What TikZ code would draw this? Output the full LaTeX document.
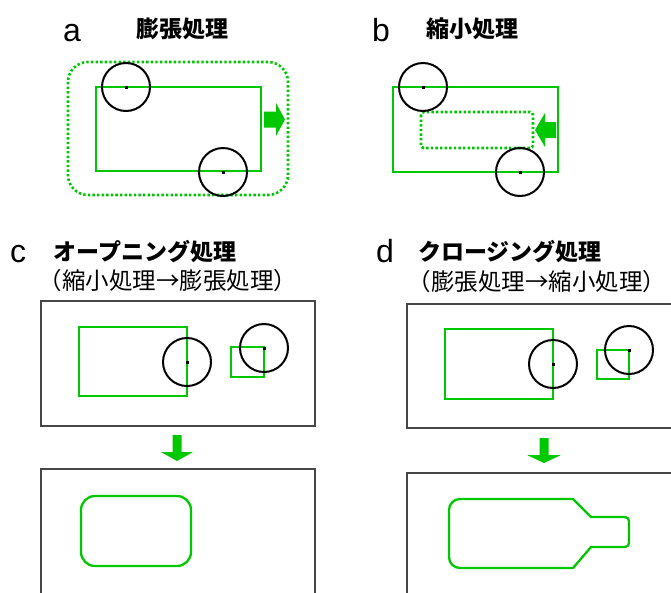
\documentclass[tikz,border=0pt]{standalone}
\usepackage{fontspec}
\setmainfont{Liberation Sans}
\newfontfamily\jp{Noto Sans CJK JP}
\definecolor{grn}{RGB}{0,200,0}
\definecolor{frm}{RGB}{70,70,70}
\begin{document}
\begin{tikzpicture}[x=1pt,y=-1pt,
  shape line/.style={draw=grn,line width=2.3pt},
  dotline/.style={draw=grn,line width=2.6pt,dash pattern=on 2.4pt off 2.2pt},
  probe/.style={draw=black,line width=2pt},
  frame/.style={draw=frm,line width=1.5pt},
  garrow/.style={fill=grn,draw=none},
  letter/.style={font=\fontsize{32}{32}\selectfont,inner sep=0pt,anchor=base},
  title/.style={font=\jp\bfseries\fontsize{23}{23}\selectfont,inner sep=0pt},
  subtitle/.style={font=\jp\fontsize{23.5}{24}\selectfont,inner sep=0pt}]
\useasboundingbox (0,0) rectangle (671,592);
\fill[white] (0,0) rectangle (671,592);
% ---------- a ----------
\node[letter] (la) at (72,41) {a};
\node[title] (ta) at (182,29) {膨張処理};
\draw[dotline,rounded corners=20pt] (68,62) rectangle (288,195);
\draw[shape line] (96,87) rectangle (261,171);
\draw[probe] (126,87) circle[radius=24];
\fill (124.5,85.5) rectangle (127.5,88.5);
\draw[probe] (223,172) circle[radius=24];
\fill (221.5,170.5) rectangle (224.5,173.5);
\fill[garrow] (264,111.5) -- (276,111.5) -- (276,103) -- (285,119.5) -- (276,136) -- (276,127.5) -- (264,127.5) -- cycle;
% ---------- b ----------
\node[letter] (lb) at (381,41) {b};
\node[title] (tb) at (472,29) {縮小処理};
\draw[shape line] (393,87) rectangle (558,172);
\draw[dotline,rounded corners=3pt] (421,112) rectangle (533,148);
\draw[probe] (423,87) circle[radius=24];
\fill (421.5,85.5) rectangle (424.5,88.5);
\draw[probe] (520,172) circle[radius=24];
\fill (518.5,170.5) rectangle (521.5,173.5);
\fill[garrow] (556,122) -- (545,122) -- (545,113) -- (535,130) -- (545,147) -- (545,138) -- (556,138) -- cycle;
% ---------- c ----------
\node[letter] (lc) at (18,262) {c};
\node[title] (tc) at (145,252) {オープニング処理};
\node[subtitle] (sc) at (168,281) {（縮小処理→膨張処理）};
\draw[frame] (41,301) rectangle (315,426);
\draw[shape line] (79,327) rectangle (187,396);
\draw[probe] (187,362) circle[radius=24];
\fill (185.5,360.5) rectangle (188.5,363.5);
\draw[shape line] (231,347) rectangle (264,377);
\draw[probe] (264,348) circle[radius=24];
\fill (262.5,346.5) rectangle (265.5,349.5);
\fill[garrow] (172.5,435) -- (181.5,435) -- (181.5,452) -- (193,452) -- (177,461) -- (161,452) -- (172.5,452) -- cycle;
\draw[frame] (41,595) -- (41,469) -- (315,469) -- (315,595);
\draw[shape line,rounded corners=14pt] (81,496) rectangle (191,566);
% ---------- d ----------
\node[letter] (ld) at (385,262) {d};
\node[title] (td) at (510,252) {クロージング処理};
\node[subtitle] (sd) at (537,282) {（膨張処理→縮小処理）};
\draw[frame] (675,304) -- (407,304) -- (407,428) -- (675,428);
\draw[shape line] (445,329) rectangle (553,399);
\draw[probe] (553,364) circle[radius=24];
\fill (551.5,362.5) rectangle (554.5,365.5);
\draw[shape line] (597,350) rectangle (629,379);
\draw[probe] (629,350) circle[radius=24];
\fill (627.5,348.5) rectangle (630.5,351.5);
\fill[garrow] (539.5,438) -- (548.5,438) -- (548.5,455) -- (561,455) -- (544,463) -- (527,455) -- (539.5,455) -- cycle;
\draw[frame] (675,473) -- (407,473) -- (407,595);
\draw[shape line,line join=round]
  (573,499) -- (591,517) -- (625,517) [rounded corners=4pt] -- (629,517) -- (629,547) [sharp corners] -- (591,547) -- (573,568)
  [rounded corners=11pt] -- (449,568) -- (449,499) [sharp corners] -- cycle;
\end{tikzpicture}
\end{document}
